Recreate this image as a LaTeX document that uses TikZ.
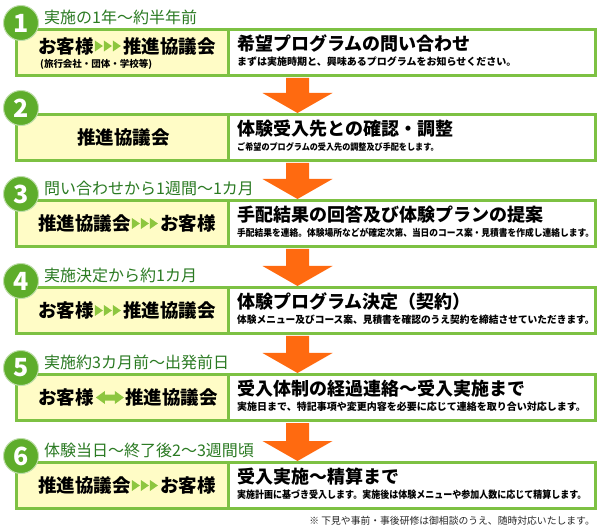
\documentclass[tikz,border=0pt]{standalone}
\usepackage{fontspec}
\usepackage{graphicx}
\setmainfont{Noto Sans CJK JP}
\definecolor{boxgreen}{HTML}{7DC143}
\definecolor{circgreen}{HTML}{5EAD2B}
\definecolor{labgreen}{HTML}{2A7A22}
\definecolor{cellyel}{HTML}{FFFCC6}
\definecolor{arrorange}{HTML}{FF6A10}
\definecolor{trigreen}{HTML}{8DC63F}
\newcommand\rowpanel[2]{%
  \node[outerbox] (#1) at (15,#2) {};
  \fill[cellyel] ([xshift=3pt,yshift=-3pt]#1.north west) rectangle ([xshift=212pt,yshift=3pt]#1.south west);
  \fill[white] ([xshift=215pt,yshift=-3pt]#1.north west) rectangle ([xshift=-3pt,yshift=3pt]#1.south east);
}
\newcommand\tritri[1]{%
  \fill[trigreen] ([xshift=1pt,yshift=5.5pt]#1.east) -- ([xshift=9pt]#1.east) -- ([xshift=1pt,yshift=-5.5pt]#1.east) -- cycle;
  \fill[trigreen] ([xshift=10pt,yshift=5.5pt]#1.east) -- ([xshift=18pt]#1.east) -- ([xshift=10pt,yshift=-5.5pt]#1.east) -- cycle;
  \fill[trigreen] ([xshift=19pt,yshift=5.5pt]#1.east) -- ([xshift=27pt]#1.east) -- ([xshift=19pt,yshift=-5.5pt]#1.east) -- cycle;
}
\newcommand\dblarr[1]{%
  \fill[trigreen] ([xshift=2pt]#1.east) -- ([xshift=11pt,yshift=6.5pt]#1.east) -- ([xshift=11pt,yshift=3pt]#1.east)
   -- ([xshift=21pt,yshift=3pt]#1.east) -- ([xshift=21pt,yshift=6.5pt]#1.east) -- ([xshift=30pt]#1.east)
   -- ([xshift=21pt,yshift=-6.5pt]#1.east) -- ([xshift=21pt,yshift=-3pt]#1.east) -- ([xshift=11pt,yshift=-3pt]#1.east)
   -- ([xshift=11pt,yshift=-6.5pt]#1.east) -- cycle;
}
\newcommand\flowarrow[3]{%
  \path (#1.south -| axis) coordinate (#3top) (#2.north -| axis) coordinate (#3tip);
  \fill[arrorange] ([xshift=-11.5pt,yshift=-1pt]#3top) -- ([xshift=11.5pt,yshift=-1pt]#3top)
    -- ([xshift=11.5pt,yshift=20pt]#3tip) -- ([xshift=35pt,yshift=20pt]#3tip) -- (#3tip)
    -- ([xshift=-35pt,yshift=20pt]#3tip) -- ([xshift=-11.5pt,yshift=20pt]#3tip) -- cycle;
}
\begin{document}
\begin{tikzpicture}[x=1pt,y=-1pt,
  outerbox/.style={anchor=north west,minimum width=582pt,minimum height=49pt,fill=boxgreen,inner sep=0pt,outer sep=0pt,draw=none},
  numc/.style={circle,minimum size=35pt,inner sep=0pt,fill=circgreen,draw=white!60!circgreen,line width=1pt,text=white,font=\fontsize{25}{25}\selectfont\bfseries},
  lbl/.style={anchor=west,inner sep=0pt,text=labgreen,font=\fontsize{16}{16}\selectfont},
  lt/.style={anchor=west,inner sep=0pt,font=\fontsize{18.5}{18.5}\selectfont\bfseries},
  subt/.style={anchor=west,inner sep=0pt,font=\fontsize{9.5}{9.5}\selectfont\bfseries},
  ttl/.style={anchor=west,inner sep=0pt,font=\fontsize{18}{18}\selectfont\bfseries},
  dsc/.style={anchor=west,inner sep=0pt,font=\fontsize{10}{10}\selectfont\bfseries},
  foot/.style={anchor=east,inner sep=0pt,text=black!85,font=\fontsize{9.8}{9.8}\selectfont}]
\useasboundingbox (0,0) rectangle (600,529);
\fill[white] (0,0) rectangle (600,529);
\coordinate (axis) at (297.5,0);
% panels
\rowpanel{p1}{28}
\rowpanel{p2}{113}
\rowpanel{p3}{199}
\rowpanel{p4}{286}
\rowpanel{p5}{373}
\rowpanel{p6}{461}
% arrows
\flowarrow{p1}{p2}{f1}
\flowarrow{p2}{p3}{f2}
\flowarrow{p3}{p4}{f3}
\flowarrow{p4}{p5}{f4}
\flowarrow{p5}{p6}{f5}
% row 1
\node[numc] (n1) at (21,23) {1};
\node[lbl] (l1) at (44,17) {実施の1年〜約半年前};
\node[lt] (a1) at (38,46) {お客様};
\tritri{a1}
\node[lt] (b1) at ([xshift=29pt]a1.east) {推進協議会};
\node[subt] (s1) at (40,64) {(旅行会社・団体・学校等)};
\node[ttl] (t1) at (237,43.5) {希望プログラムの問い合わせ};
\node[dsc] (d1) at (237,62) {まずは実施時期と、興味あるプログラムをお知らせください。};
% row 2
\node[numc] (n2) at (21,108) {2};
\node[lt,anchor=center] (a2) at (123.5,137.5) {推進協議会};
\node[ttl] (t2) at (237,128.5) {体験受入先との確認・調整};
\node[dsc] (d2) at (237,147) {\fontsize{9}{9}\selectfont\scalebox{0.9}[1]{ご希望のプログラムの受入先の調整及び手配をします。}};
% row 3
\node[numc] (n3) at (21,194) {3};
\node[lbl] (l3) at (44,188) {問い合わせから1週間〜1カ月};
\node[lt] (a3) at (38,223.5) {推進協議会};
\tritri{a3}
\node[lt] (b3) at ([xshift=29pt]a3.east) {お客様};
\node[ttl] (t3) at (237,214.5) {手配結果の回答及び体験プランの提案};
\node[dsc] (d3) at (237,233) {\fontsize{9.5}{9.5}\selectfont\scalebox{0.92}[1]{手配結果を連絡。体験場所などが確定次第、当日のコース案・見積書を作成し連絡します。}};
% row 4
\node[numc] (n4) at (21,281) {4};
\node[lbl] (l4) at (44,275) {実施決定から約1カ月};
\node[lt] (a4) at (38,310.5) {お客様};
\tritri{a4}
\node[lt] (b4) at ([xshift=29pt]a4.east) {推進協議会};
\node[ttl] (t4) at (237,301.5) {体験プログラム決定（契約）};
\node[dsc] (d4) at (237,320) {\scalebox{0.97}[1]{体験メニュー及びコース案、見積書を確認のうえ契約を締結させていただきます。}};
% row 5
\node[numc] (n5) at (21,368) {5};
\node[lbl] (l5) at (44,362) {実施約3カ月前〜出発前日};
\node[lt] (a5) at (38,397.5) {お客様};
\dblarr{a5}
\node[lt] (b5) at ([xshift=31pt]a5.east) {推進協議会};
\node[ttl] (t5) at (237,388.5) {受入体制の経過連絡〜受入実施まで};
\node[dsc] (d5) at (237,407) {実施日まで、特記事項や変更内容を必要に応じて連絡を取り合い対応します。};
% row 6
\node[numc] (n6) at (21,456) {6};
\node[lbl] (l6) at (44,450) {体験当日〜終了後2〜3週間頃};
\node[lt] (a6) at (38,485.5) {推進協議会};
\tritri{a6}
\node[lt] (b6) at ([xshift=29pt]a6.east) {お客様};
\node[ttl] (t6) at (237,476.5) {受入実施〜精算まで};
\node[dsc] (d6) at (237,495) {\scalebox{0.9}[1]{実施計画に基づき受入します。実施後は体験メニューや参加人数に応じて精算します。}};
% footnote
\node[foot] (fn) at (595,521) {※ 下見や事前・事後研修は御相談のうえ、随時対応いたします。};
\end{tikzpicture}
\end{document}
